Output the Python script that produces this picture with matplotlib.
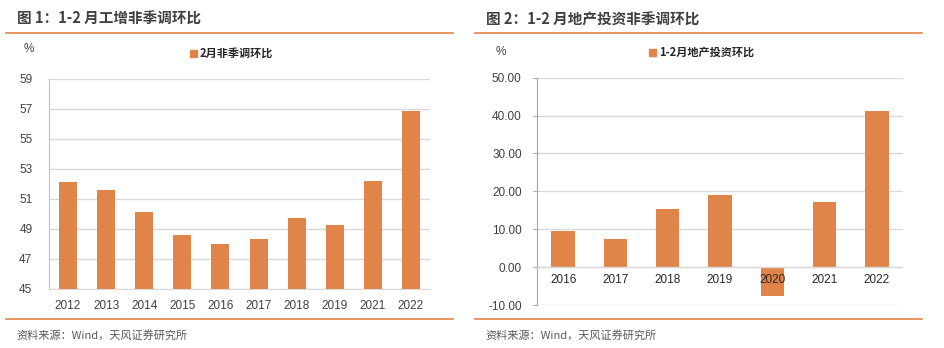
import matplotlib
matplotlib.use("Agg")
import matplotlib.pyplot as plt
import numpy as np

plt.rcParams['font.family'] = ['Liberation Sans', 'Noto Sans CJK SC', 'DejaVu Sans']

# chart 1: 1-2月工增非季调环比
years1 = ['2012', '2013', '2014', '2015', '2016', '2017', '2018', '2019', '2021', '2022']
ip_mom = [52.15, 51.6, 50.13, 48.6, 47.98, 48.35, 49.7, 49.25, 52.2, 56.87]
yticks1 = [45, 47, 49, 51, 53, 55, 57, 59]

# chart 2: 1-2月地产投资非季调环比
years2 = ['2016', '2017', '2018', '2019', '2020', '2021', '2022']
re_mom = [9.57, 7.46, 15.3, 19.0, -7.5, 17.2, 41.15]
yticks2 = [-10, 0, 10, 20, 30, 40, 50]

W, H = 944, 348
bar_col = '#E0844A'
grid_col = '#D9D9D9'
txt_col = '#404040'
cjk = ['Noto Sans CJK SC', 'DejaVu Sans']

fig = plt.figure(figsize=(W / 100, H / 100), dpi=100)

def px(x0, y0, x1, y1):
    # pixel box (top-left origin) -> figure fraction
    return [x0 / W, 1 - y1 / H, (x1 - x0) / W, (y1 - y0) / H]

def frame(x0, x1, title):
    fig.add_artist(plt.Line2D([x0 / W, x1 / W], [1 - 33 / H] * 2, color='#E0844A', lw=1.2))
    fig.add_artist(plt.Line2D([x0 / W, x1 / W], [1 - 319 / H] * 2, color='#E0844A', lw=1.2))
    fig.text((x0 + 11) / W, 1 - 19 / H, title, family=cjk, fontsize=10.5,
             fontweight='bold', color=txt_col, va='center', ha='left')
    fig.text((x0 + 10) / W, 1 - 335 / H, '资料来源：Wind，天风证券研究所', family=cjk,
             fontsize=8, color='#595959', va='center', ha='left')

frame(6, 453, '图 1：1-2 月工增非季调环比')
frame(475, 922, '图 2：1-2 月地产投资非季调环比')

# left chart
ax1 = fig.add_axes(px(49, 79, 430, 289))
x1 = np.arange(len(years1))
ax1.bar(x1, np.array(ip_mom) - 45, bottom=45, width=0.47, color=bar_col, zorder=3)
ax1.set_xlim(-0.5, len(years1) - 0.5)
ax1.set_ylim(45, 59)
ax1.set_yticks(yticks1)
ax1.set_xticks(x1)
ax1.set_xticklabels(years1)
ax1.grid(axis='y', color=grid_col, lw=1, zorder=0)
for s in ['top', 'right']:
    ax1.spines[s].set_visible(False)
ax1.spines['left'].set_color('#BFBFBF')
ax1.spines['bottom'].set_color(grid_col)
ax1.tick_params(length=0, labelsize=8.5, labelcolor=txt_col, pad=8)
ax1.tick_params(axis='y', pad=12)
fig.text(29 / W, 1 - 49 / H, '%', fontsize=8.5, color=txt_col, va='center', ha='center')
fig.patches.append(plt.Rectangle((190 / W, 1 - 57 / H), 7 / W, 7 / H, color=bar_col,
                                 transform=fig.transFigure, figure=fig))
fig.text(200 / W, 1 - 53.5 / H, '2月非季调环比', family=cjk, fontsize=8, fontweight='bold',
         color='#262626', va='center', ha='left')

# right chart
ax2 = fig.add_axes(px(537, 77.7, 903, 305))
x2 = np.arange(len(years2))
ax2.bar(x2, re_mom, width=0.45, color=bar_col, zorder=3)
ax2.set_xlim(-0.5, len(years2) - 0.5)
ax2.set_ylim(-10, 50)
ax2.set_yticks(yticks2)
ax2.set_yticklabels(['%.2f' % v for v in yticks2])
ax2.set_xticks(x2)
ax2.set_xticklabels([])
ax2.grid(axis='y', color=grid_col, lw=1, zorder=0)
for s in ['top', 'right', 'bottom']:
    ax2.spines[s].set_visible(False)
ax2.axhline(0, color=grid_col, lw=1, zorder=4)
ax2.spines['left'].set_color('#A6A6A6')
ax2.tick_params(axis='x', length=0)
ax2.tick_params(axis='y', length=3, color='#A6A6A6', labelsize=8.5, labelcolor=txt_col, pad=8)
# category labels sit on the zero line, over the bars
for xi, yr in zip(x2, years2):
    ax2.annotate(yr, (xi, 0), xytext=(0, -13), textcoords='offset pixels', ha='center',
                 va='center', fontsize=8.5, color='#262626', zorder=5)
fig.text(501 / W, 1 - 52 / H, '%', fontsize=8.5, color=txt_col, va='center', ha='center')
fig.patches.append(plt.Rectangle((649 / W, 1 - 56 / H), 7 / W, 7 / H, color=bar_col,
                                 transform=fig.transFigure, figure=fig))
fig.text(659 / W, 1 - 52.5 / H, '1-2月地产投资环比', family=cjk, fontsize=8, fontweight='bold',
         color='#262626', va='center', ha='left')

fig.savefig('out.png', dpi=100)
